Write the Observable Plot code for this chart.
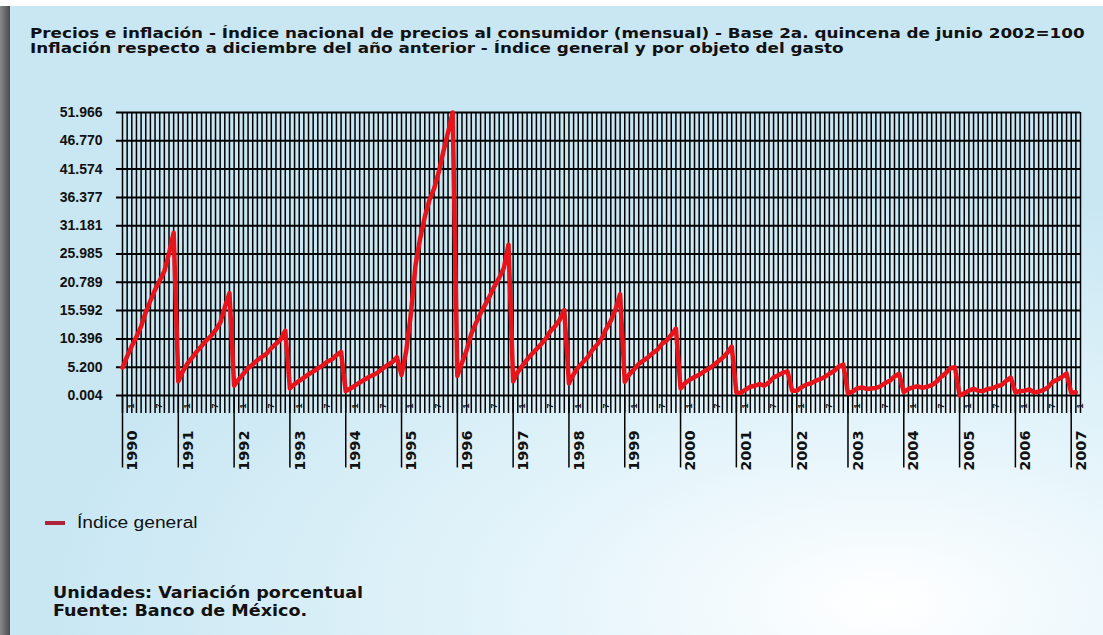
<!DOCTYPE html>
<html><head><meta charset="utf-8">
<script src="https://cdn.jsdelivr.net/npm/d3@7"></script>
<script src="https://cdn.jsdelivr.net/npm/@observablehq/plot@0.6"></script>
<style>
html,body{margin:0;padding:0;}
body{width:1103px;height:635px;overflow:hidden;position:relative;background:#fff;}
#panel{position:absolute;left:0;top:6px;width:1103px;height:629px;
 background:radial-gradient(ellipse 75% 65% at 80% 95%, #ffffff 0%, #e6f5fb 40%, #c9e7f3 100%);}
#leftbar{position:absolute;left:0;top:6px;width:10px;height:629px;background:linear-gradient(to right,#8a8a8a,#4a4a4a);}
.t{position:absolute;white-space:nowrap;transform-origin:0 0;color:#111;}
.title{left:30px;font:bold 14px "DejaVu Sans";transform:scaleX(1.2);}
.foot{left:53px;font:bold 15px "DejaVu Sans";transform:scaleX(1.17);}
#legend{position:absolute;left:45px;top:514px;font:16px "Liberation Sans";color:#111;display:flex;align-items:center;}
#legend span.sw{display:inline-block;width:20px;height:4px;background:#b0243a;margin-right:12px;}
#chart{position:absolute;left:0;top:0;}
</style></head>
<body>
<div id="panel"></div>
<div id="leftbar"></div>
<div class="t title" style="top:25px">Precios e inflación - Índice nacional de precios al consumidor (mensual) - Base 2a. quincena de junio 2002=100</div>
<div class="t title" style="top:40px">Inflación respecto a diciembre del año anterior - Índice general y por objeto del gasto</div>
<div id="chart"></div>
<div id="legend"><span class="sw"></span><span style="transform:scaleX(1.2);transform-origin:0 0;display:inline-block">Índice general</span></div>
<div class="t foot" style="top:584px">Unidades: Variación porcentual</div>
<div class="t foot" style="top:602px">Fuente: Banco de México.</div>
<script>
// Inflación acumulada respecto a diciembre del año anterior (%), enero..diciembre
const years = [1990,1991,1992,1993,1994,1995,1996,1997,1998,1999,2000,2001,2002,2003,2004,2005,2006,2007];
const v1990 = [5.1, 7.2, 9.1, 10.8, 12.7, 15.3, 17.4, 19.4, 21.1, 22.8, 26.1, 29.9];
const v1991 = [2.6, 4.5, 5.9, 7.0, 8.1, 9.1, 10.1, 10.9, 12.0, 13.3, 16.2, 18.8];
const v1992 = [1.8, 3.0, 4.0, 5.0, 5.7, 6.5, 7.1, 7.7, 8.7, 9.5, 10.3, 11.9];
const v1993 = [1.3, 2.1, 2.7, 3.3, 3.9, 4.4, 5.0, 5.5, 6.2, 6.6, 7.4, 8.0];
const v1994 = [0.8, 1.3, 1.8, 2.4, 2.9, 3.4, 3.8, 4.3, 5.0, 5.6, 6.1, 7.05];
const v1995 = [3.8, 8.1, 14.9, 23.9, 28.8, 32.8, 35.9, 38.0, 41.0, 44.8, 48.3, 51.966];
const v1996 = [3.6, 6.0, 8.3, 11.3, 13.3, 15.1, 16.7, 18.3, 20.1, 21.6, 23.4, 27.7];
const v1997 = [2.6, 4.3, 5.5, 6.6, 7.6, 8.5, 9.4, 10.4, 11.8, 12.7, 13.9, 15.7];
const v1998 = [2.2, 3.9, 5.2, 6.1, 7.0, 8.3, 9.3, 10.4, 12.2, 13.7, 15.8, 18.6];
const v1999 = [2.5, 3.9, 4.8, 5.8, 6.4, 7.0, 7.8, 8.4, 9.5, 10.1, 11.1, 12.3];
const v2000 = [1.3, 2.3, 2.9, 3.4, 3.8, 4.4, 4.9, 5.5, 6.2, 6.9, 7.8, 9.0];
const v2001 = [0.55, 0.48, 1.1, 1.6, 1.8, 2.1, 1.8, 2.4, 3.3, 3.7, 4.2, 4.4];
const v2002 = [0.9, 0.9, 1.5, 2.0, 2.2, 2.7, 3.0, 3.4, 4.0, 4.5, 5.3, 5.7];
const v2003 = [0.4, 0.7, 1.3, 1.5, 1.2, 1.3, 1.4, 1.7, 2.3, 2.7, 3.5, 4.0];
const v2004 = [0.6, 1.2, 1.5, 1.7, 1.4, 1.6, 1.9, 2.5, 3.4, 4.1, 5.0, 5.2];
const v2005 = [0.004, 0.4, 0.9, 1.2, 0.9, 0.8, 1.2, 1.3, 1.7, 1.9, 2.7, 3.3];
const v2006 = [0.6, 0.8, 0.9, 1.1, 0.6, 0.7, 1.0, 1.5, 2.5, 2.9, 3.4, 4.05];
const v2007 = [0.52, 0.6];
const series = [v1990,v1991,v1992,v1993,v1994,v1995,v1996,v1997,v1998,v1999,v2000,v2001,v2002,v2003,v2004,v2005,v2006,v2007];
const yTicks = [0.004, 5.200, 10.396, 15.592, 20.789, 25.985, 31.181, 36.377, 41.574, 46.770, 51.966];
const monthLabels = ["1", "7"];

const data = [];
series.forEach((vals, i) => vals.forEach((v, m) => data.push({m: i * 12 + m, v})));
const lastMonth = 206;
const months = d3.range(0, lastMonth + 1);
const yearStarts = years.map((y, i) => ({year: y, m: i * 12}));
const monthTicks = [];
yearStarts.forEach(d => monthLabels.forEach(lbl => {
  const m = d.m + (+lbl - 1);
  if (m <= lastMonth - 1) monthTicks.push({m, lbl});
}));
const yBottom = -3.3, yTop = 51.966;

const chart = Plot.plot({
  width: 1103, height: 480,
  marginLeft: 122, marginRight: 23, marginTop: 112, marginBottom: 67,
  x: {domain: [0, lastMonth], axis: null},
  y: {domain: [yBottom, yTop], axis: null},
  style: {background: "transparent", overflow: "visible"},
  marks: [
    Plot.ruleX(months, {x: d => d, y1: () => yBottom, y2: () => yTop, stroke: "#000", strokeWidth: 1.5}),
    Plot.ruleY(yTicks, {y: d => d, x1: () => -1.3, x2: () => lastMonth, stroke: "#000", strokeWidth: 2}),
    Plot.ruleX(yearStarts, {x: "m", y1: () => 0.004, y2: () => -13.3, stroke: "#000", strokeWidth: 1.5}),
    Plot.text(yTicks, {x: () => 0, y: d => d, text: d => d.toFixed(3), textAnchor: "end", dx: -20,
      fontFamily: "Liberation Sans", fontWeight: "bold", fontSize: 14, fill: "#111"}),
    Plot.text(monthTicks, {x: "m", y: () => yBottom, text: "lbl", rotate: -90, textAnchor: "end", lineAnchor: "middle",
      dx: 9, dy: -10, fontFamily: "Liberation Sans", fontWeight: "bold", fontSize: 9, fill: "#111"}),
    Plot.text(yearStarts, {x: "m", y: () => yBottom, text: d => String(d.year), rotate: -90, textAnchor: "end", lineAnchor: "middle",
      dx: 10, dy: 17, fontFamily: "DejaVu Sans", fontWeight: "bold", fontSize: 14.5, fill: "#111"}),
    Plot.line(data, {x: "m", y: "v", stroke: "#e8141b", strokeWidth: 4.5, strokeLinejoin: "round"})
  ]
});
document.getElementById("chart").appendChild(chart);
</script>
</body></html>
